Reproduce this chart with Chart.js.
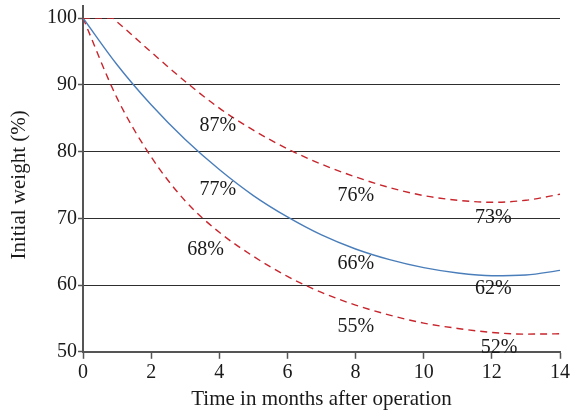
<!DOCTYPE html>
<html>
<head>
<meta charset="utf-8">
<script src="https://cdn.jsdelivr.net/npm/chart.js@4.4.0/dist/chart.umd.min.js"></script>
<style>
  html, body { margin: 0; padding: 0; background: #fff; }
</style>
</head>
<body>
<canvas id="myChart" width="573" height="412"></canvas>
<script>
"use strict";

// months after operation and % of initial weight
const months = [0, 1, 2, 3, 4, 5, 6, 7, 8, 9, 10, 11, 12, 13, 14];
const meanWeight = [100, 93.0, 87.0, 81.8, 77.3, 73.4, 70.2, 67.5, 65.4, 63.8, 62.6, 61.8, 61.4, 61.5, 62.2];

const upperMonths = [0, 0.85, 1, 2, 3, 4, 5, 6, 7, 8, 9, 10, 11, 12, 13, 14];
const upperWeight = [100, 100, 99.4, 94.9, 90.5, 86.5, 83.2, 80.4, 78.1, 76.2, 74.6, 73.4, 72.7, 72.4, 72.7, 73.6];

const lowerWeight = [100, 88.0, 79.2, 72.6, 67.9, 64.3, 61.3, 58.9, 57.0, 55.5, 54.3, 53.5, 52.9, 52.65, 52.7];

const xTicks = [0, 2, 4, 6, 8, 10, 12, 14];
const yTicks = [50, 60, 70, 80, 90, 100];

// percentage notes written in the plot
const noteText = ['87%', '77%', '68%', '76%', '66%', '55%', '73%', '62%', '52%'];
const noteX = [3.96, 3.96, 3.60, 8.01, 8.01, 8.01, 12.04, 12.04, 12.21];
const noteY = [84.1, 74.6, 65.5, 73.6, 63.4, 54.0, 70.3, 59.7, 50.9];

const serif = '"Liberation Serif", "Times New Roman", serif';

const toPoints = (xs, ys) => xs.map((x, i) => ({ x: x, y: ys[i] }));

const notesPlugin = {
  id: 'notes',
  afterDatasetsDraw(chart) {
    const ctx = chart.ctx;
    const xs = chart.scales.x;
    const ys = chart.scales.y;
    ctx.save();
    ctx.font = '20px ' + serif;
    ctx.fillStyle = '#1a1a1a';
    ctx.textAlign = 'center';
    ctx.textBaseline = 'alphabetic';
    noteText.forEach((t, i) => {
      ctx.fillText(t, xs.getPixelForValue(noteX[i]), ys.getPixelForValue(noteY[i]) + 7);
    });
    ctx.restore();
  },
  afterDraw(chart) {
    // the y axis line runs a little above the top grid line
    const ctx = chart.ctx;
    const a = chart.chartArea;
    ctx.save();
    ctx.strokeStyle = '#555';
    ctx.lineWidth = 2;
    ctx.beginPath();
    ctx.moveTo(a.left, a.top - 13);
    ctx.lineTo(a.left, a.top);
    ctx.stroke();
    ctx.restore();
  }
};

const ctx = document.getElementById('myChart');

new Chart(ctx, {
  type: 'line',
  data: {
    datasets: [
      {
        label: 'Upper',
        data: toPoints(upperMonths, upperWeight),
        borderColor: '#c8252c',
        borderWidth: 1.4,
        borderDash: [7, 5],
        pointRadius: 0,
        cubicInterpolationMode: 'monotone',
        fill: false
      },
      {
        label: 'Mean',
        data: toPoints(months, meanWeight),
        borderColor: '#4a7ebb',
        borderWidth: 1.4,
        pointRadius: 0,
        cubicInterpolationMode: 'monotone',
        fill: false
      },
      {
        label: 'Lower',
        data: toPoints(months, lowerWeight),
        borderColor: '#c8252c',
        borderWidth: 1.4,
        borderDash: [7, 5],
        pointRadius: 0,
        cubicInterpolationMode: 'monotone',
        fill: false
      }
    ]
  },
  options: {
    responsive: false,
    animation: false,
    devicePixelRatio: 1,
    layout: { padding: { left: 0, right: 13, top: 18, bottom: 0 } },
    plugins: {
      legend: { display: false },
      tooltip: { enabled: false }
    },
    scales: {
      x: {
        type: 'linear',
        min: 0,
        max: 14,
        afterBuildTicks: (scale) => { scale.ticks = xTicks.map(v => ({ value: v })); },
        ticks: { font: { family: serif, size: 20 }, color: '#1a1a1a', padding: 2, maxRotation: 0 },
        grid: { drawOnChartArea: false, drawTicks: true, tickLength: 7, tickColor: '#555', tickWidth: 1.5 },
        border: { color: '#555', width: 2 },
        title: {
          display: true,
          text: 'Time in months after operation',
          font: { family: serif, size: 21 },
          color: '#1a1a1a',
          padding: { top: 0, bottom: 0 }
        }
      },
      y: {
        min: 50,
        max: 100,
        afterBuildTicks: (scale) => { scale.ticks = yTicks.map(v => ({ value: v })); },
        afterFit: (scale) => { scale.width = 83; },
        ticks: { font: { family: serif, size: 20 }, color: '#1a1a1a', padding: 1 },
        grid: { color: '#2e2e2e', lineWidth: 1, tickLength: 5, tickColor: '#555', tickWidth: 1.5 },
        border: { color: '#555', width: 2 },
        title: {
          display: true,
          text: 'Initial weight (%)',
          font: { family: serif, size: 21 },
          color: '#1a1a1a',
          padding: { top: 7, bottom: 0 }
        }
      }
    }
  },
  plugins: [notesPlugin]
});
</script>
</body>
</html>
